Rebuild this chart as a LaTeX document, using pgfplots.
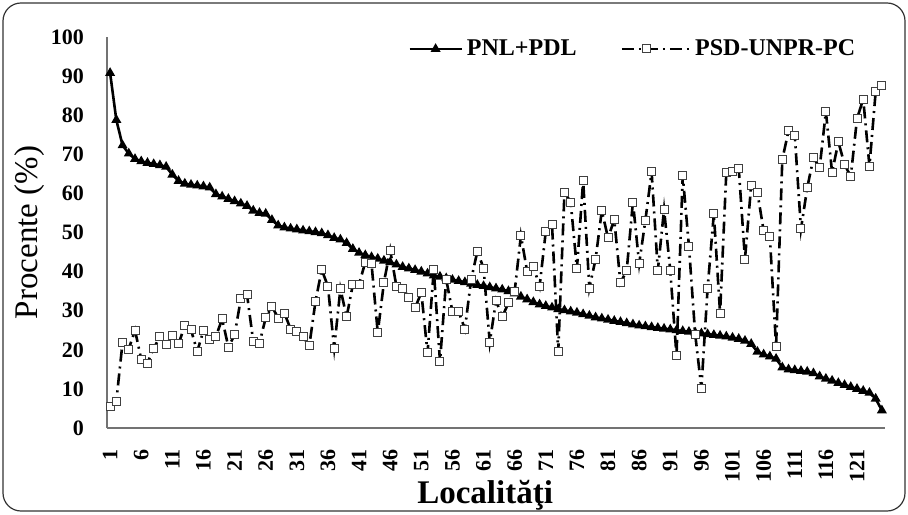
\documentclass[border=0pt]{standalone}
\usepackage{fontspec}
\setmainfont{Liberation Serif}
\usepackage{pgfplots}
\usepackage{pgfplotstable}
\pgfplotsset{compat=1.18}

\pgfplotstableread{
x y
1 90.8
2 78.8
3 72.3
4 70.2
5 68.8
6 68.2
7 67.8
8 67.5
9 67.2
10 66.8
11 64.8
12 63.2
13 62.5
14 62.2
15 62.0
16 61.8
17 61.5
18 59.8
19 59.2
20 58.6
21 58.0
22 57.4
23 56.8
24 55.6
25 55.0
26 54.8
27 53.2
28 51.8
29 51.3
30 51.0
31 50.8
32 50.5
33 50.3
34 50.1
35 49.8
36 49.3
37 48.6
38 48.2
39 47.3
40 45.8
41 44.8
42 44.2
43 43.7
44 43.3
45 42.8
46 42.4
47 41.8
48 41.2
49 40.8
50 40.4
51 40.0
52 39.5
53 39.0
54 38.7
55 38.3
56 37.9
57 37.6
58 37.3
59 36.9
60 36.6
61 36.3
62 36.0
63 35.7
64 35.4
65 35.0
66 34.4
67 33.6
68 32.9
69 32.2
70 31.6
71 31.2
72 30.8
73 30.4
74 30.1
75 29.8
76 29.5
77 29.1
78 28.7
79 28.3
80 28.0
81 27.7
82 27.4
83 27.1
84 26.8
85 26.5
86 26.2
87 26.0
88 25.8
89 25.6
90 25.4
91 25.2
92 25.0
93 24.8
94 24.6
95 24.4
96 24.2
97 24.0
98 23.8
99 23.6
100 23.4
101 23.1
102 22.8
103 22.3
104 21.5
105 19.5
106 18.8
107 18.3
108 17.7
109 15.5
110 15.0
111 14.8
112 14.6
113 14.4
114 14.0
115 13.2
116 12.6
117 12.1
118 11.5
119 11.0
120 10.5
121 10.0
122 9.5
123 9.0
124 7.5
125 4.5
}\pnl

\pgfplotstableread{
x y
1 5.5
2 6.9
3 21.9
4 20.2
5 25.0
6 17.6
7 16.6
8 20.4
9 23.3
10 21.3
11 23.6
12 21.5
13 26.2
14 25.1
15 19.6
16 24.9
17 22.6
18 23.4
19 27.9
20 20.7
21 23.8
22 33.0
23 34.1
24 22.1
25 21.7
26 28.2
27 31.1
28 28.1
29 29.4
30 25.3
31 24.7
32 23.4
33 21.0
34 32.4
35 40.5
36 36.2
37 20.4
38 35.6
39 28.4
40 36.7
41 36.8
42 42.4
43 42.0
44 24.4
45 37.3
46 45.5
47 36.2
48 35.6
49 33.5
50 30.7
51 34.7
52 19.2
53 40.5
54 17.0
55 38.0
56 29.8
57 29.8
58 25.3
59 37.9
60 45.2
61 40.9
62 21.9
63 32.6
64 28.4
65 32.0
66 35.0
67 49.2
68 40.1
69 41.4
70 36.2
71 50.3
72 52.0
73 19.6
74 60.3
75 57.8
76 40.7
77 63.3
78 35.8
79 43.2
80 55.6
81 48.6
82 53.3
83 37.1
84 40.3
85 57.8
86 42.0
87 53.1
88 65.5
89 40.3
90 55.9
91 40.3
92 18.5
93 64.6
94 46.5
95 24.0
96 10.2
97 35.8
98 54.8
99 29.4
100 65.3
101 65.5
102 66.4
103 43.2
104 62.1
105 60.2
106 50.5
107 48.9
108 20.9
109 68.7
110 76.0
111 74.9
112 50.9
113 61.4
114 69.1
115 66.6
116 80.9
117 65.3
118 73.2
119 67.4
120 64.3
121 79.1
122 84.1
123 67.0
124 86.0
125 87.5
}\psd

\begin{document}
\begin{tikzpicture}
\begin{axis}[
  at={(0pt,0pt)}, anchor=south west,
  scale only axis, width=389pt, height=195.5pt,
  xmin=0.5, xmax=125.5, ymin=0, ymax=100,
  axis x line*=bottom, axis y line*=left,
  axis line style={draw=black!55, line width=0.6pt, -},
  major tick length=0pt,
  xtick={1,6,...,121},
  ytick={0,10,...,100},
  /pgf/number format/assume math mode=true,
  ticklabel style={font=\fontsize{11}{12}\selectfont\bfseries},
  x tick label style={rotate=90, anchor=east, xshift=-7pt},
  y tick label style={xshift=-8pt},
  xlabel={\textbf{Localităţi}},
  xlabel style={font=\fontsize{16.5}{18}\selectfont, at={(axis description cs:0.486,-0.172)}, anchor=center},
  ylabel={Procente (\%)},
  ylabel style={font=\fontsize{16.5}{18}\selectfont, at={(axis description cs:-0.099,0.5)}, anchor=center},
  legend columns=2,
  legend style={at={(rel axis cs:0.975,1.015)}, anchor=north east, draw=none, fill=none,
    font=\fontsize{12}{13}\selectfont\bfseries,
    /tikz/every even column/.append style={column sep=20pt}},
]
\addplot[black, line width=1.3pt, mark=triangle*, mark size=1.6pt, mark options={solid},
  legend image code/.code={\draw[mark repeat=2,mark phase=2] plot coordinates {(0pt,0pt) (13pt,0pt) (26pt,0pt)};}]
  table[x=x,y=y]{\pnl};
\addlegendentry{PNL+PDL}
\addplot[black, line width=1.3pt, dash pattern=on 6pt off 2.5pt on 1pt off 2.5pt,
  mark=square*, mark size=2pt, mark options={solid, fill=white, draw=black!75, line width=0.5pt},
  legend image code/.code={\draw[mark repeat=2,mark phase=2] plot coordinates {(0pt,0pt) (12.5pt,0pt) (34pt,0pt)};}]
  table[x=x,y=y]{\psd};
\addlegendentry{PSD-UNPR-PC}
\end{axis}
\draw[black!80, line width=0.6pt, rounded corners=9pt] (-52pt,-41.5pt) rectangle (399pt,212.5pt);
\pgfresetboundingbox
\path[use as bounding box] (-53.5pt,-43pt) rectangle (400.5pt,214pt);
\end{tikzpicture}
\end{document}
